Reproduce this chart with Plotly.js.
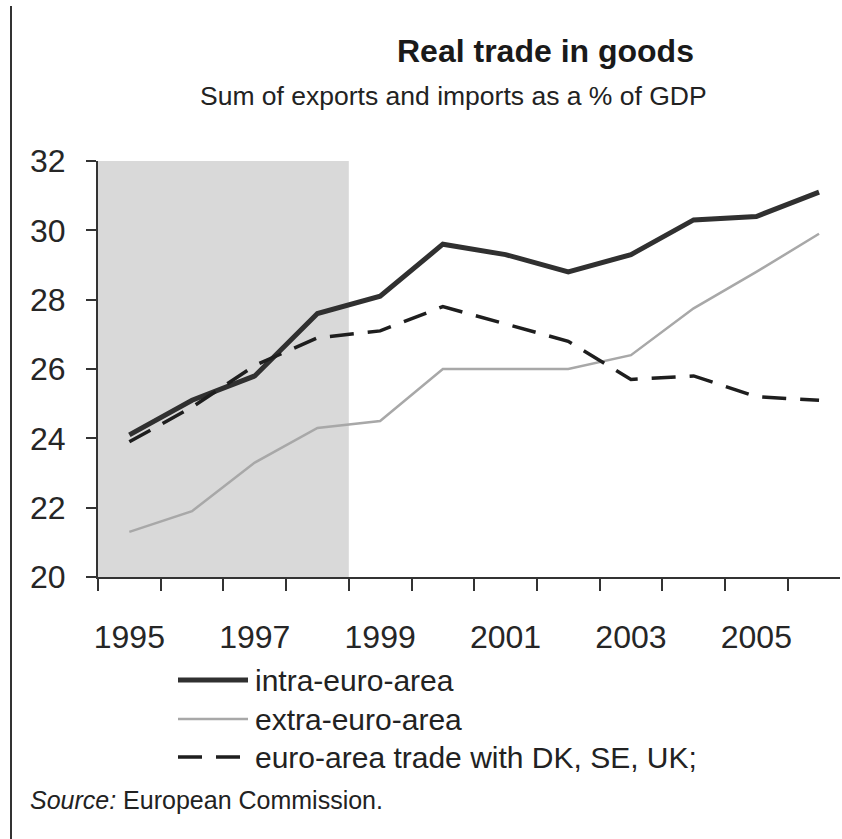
<!DOCTYPE html>
<html>
<head>
<meta charset="utf-8">
<script src="https://cdn.plot.ly/plotly-3.0.1.min.js"></script>
<style>
  html, body { margin: 0; padding: 0; background: #ffffff; }
  #chart { width: 842px; height: 839px; }
</style>
</head>
<body>
<div id="chart"></div>
<script>
// ---- data ----
const years = [1995, 1996, 1997, 1998, 1999, 2000, 2001, 2002, 2003, 2004, 2005, 2006];
const intraEuro = [24.1, 25.1, 25.8, 27.6, 28.1, 29.6, 29.3, 28.8, 29.3, 30.3, 30.4, 31.1];
const extraEuro = [21.3, 21.9, 23.3, 24.3, 24.5, 26.0, 26.0, 26.0, 26.4, 27.75, 28.8, 29.9];
const withDkSeUk = [23.9, 24.9, 26.1, 26.9, 27.1, 27.8, 27.3, 26.8, 25.7, 25.8, 25.2, 25.1];
const seriesNames = ["intra-euro-area", "extra-euro-area", "euro-area trade with DK, SE, UK;"];
const xTickYears = [1995, 1997, 1999, 2001, 2003, 2005];
const xTickLabels = ["1995", "1997", "1999", "2001", "2003", "2005"];
const yTicks = [20, 22, 24, 26, 28, 30, 32];
const shadedYears = [1995, 1998];   // shaded period (first and last year covered)

// ---- geometry helpers (pixel -> paper) ----
const W = 842, H = 839;
const M = { l: 98, r: 2, t: 161, b: 262 };
const PW = W - M.l - M.r, PH = H - M.t - M.b;
const px2x = p => (p - M.l) / PW;
const py2y = p => (H - M.b - p) / PH;

const FONT = "Liberation Sans, Arial, sans-serif";
const styles = [
  { color: "#303030", width: 5, dash: "solid" },
  { color: "#a8a8a8", width: 2.5, dash: "solid" },
  { color: "#1e1e1e", width: 3.5, dash: "24px,14px" }
];
const seriesData = [intraEuro, extraEuro, withDkSeUk];

const traces = seriesData.map((vals, i) => ({
  type: "scatter",
  mode: "lines",
  x: years,
  y: vals,
  name: seriesNames[i],
  line: { color: styles[i].color, width: styles[i].width, dash: styles[i].dash },
  showlegend: false,
  hoverinfo: "x+y+name"
}));

// manual legend (samples + labels)
const legendRows = [680, 719, 757];
const legendShapes = legendRows.map((py, i) => ({
  type: "line", xref: "paper", yref: "paper",
  x0: px2x(178), x1: px2x(248), y0: py2y(py), y1: py2y(py),
  line: { color: styles[i].color, width: styles[i].width, dash: styles[i].dash }
}));
const legendTexts = legendRows.map((py, i) => ({
  xref: "paper", yref: "paper", x: px2x(253), y: py2y(py),
  xanchor: "left", yanchor: "middle", showarrow: false,
  text: seriesNames[i], font: { family: FONT, size: 30, color: "#222" }
}));

const boundaries = years.map(y => y - 0.5);

const layout = {
  width: W, height: H,
  margin: M,
  paper_bgcolor: "#ffffff",
  plot_bgcolor: "rgba(0,0,0,0)",
  font: { family: FONT, color: "#222" },
  showlegend: false,
  xaxis: {
    range: [1994.5, 1994.5 + PW / 62.7],
    tickmode: "array",
    tickvals: xTickYears,
    ticktext: xTickLabels,
    ticks: "outside", ticklen: 31, tickcolor: "rgba(0,0,0,0)",
    tickfont: { family: FONT, size: 32, color: "#262626" },
    minor: { tickmode: "array", tickvals: boundaries, ticks: "outside", ticklen: 12, tickwidth: 2, tickcolor: "#333", showgrid: false },
    showline: true, linecolor: "#333", linewidth: 2,
    showgrid: false, zeroline: false, fixedrange: true
  },
  yaxis: {
    range: [20, 32],
    tickmode: "array", tickvals: yTicks,
    ticks: "outside", ticklen: 10, tickwidth: 2, tickcolor: "#333",
    ticklabelstandoff: 14,
    tickfont: { family: FONT, size: 32, color: "#262626" },
    showline: true, linecolor: "#333", linewidth: 2,
    showgrid: false, zeroline: false, fixedrange: true
  },
  shapes: [
    {
      type: "rect", xref: "x", yref: "y", layer: "below",
      x0: shadedYears[0] - 0.5, x1: shadedYears[1] + 0.5, y0: 20, y1: 32,
      fillcolor: "#d9d9d9", line: { width: 0 }
    },
    {
      type: "line", xref: "paper", yref: "paper",
      x0: px2x(11), x1: px2x(11), y0: py2y(6), y1: py2y(H),
      line: { color: "#333", width: 2 }
    }
  ].concat(legendShapes),
  annotations: [
    {
      xref: "paper", yref: "paper", x: px2x(545), y: py2y(51),
      xanchor: "center", yanchor: "middle", showarrow: false,
      text: "<b>Real trade in goods</b>", font: { family: FONT, size: 32, color: "#1a1a1a" }
    },
    {
      xref: "paper", yref: "paper", x: px2x(453), y: py2y(96),
      xanchor: "center", yanchor: "middle", showarrow: false,
      text: "Sum of exports and imports as a % of GDP", font: { family: FONT, size: 26.5, color: "#222" }
    },
    {
      xref: "paper", yref: "paper", x: px2x(28), y: py2y(800),
      xanchor: "left", yanchor: "middle", showarrow: false,
      text: "<i>Source:</i> European Commission.", font: { family: FONT, size: 25, color: "#222" }
    }
  ].concat(legendTexts)
};

Plotly.newPlot("chart", traces, layout, { displayModeBar: false, staticPlot: true });
</script>
</body>
</html>
